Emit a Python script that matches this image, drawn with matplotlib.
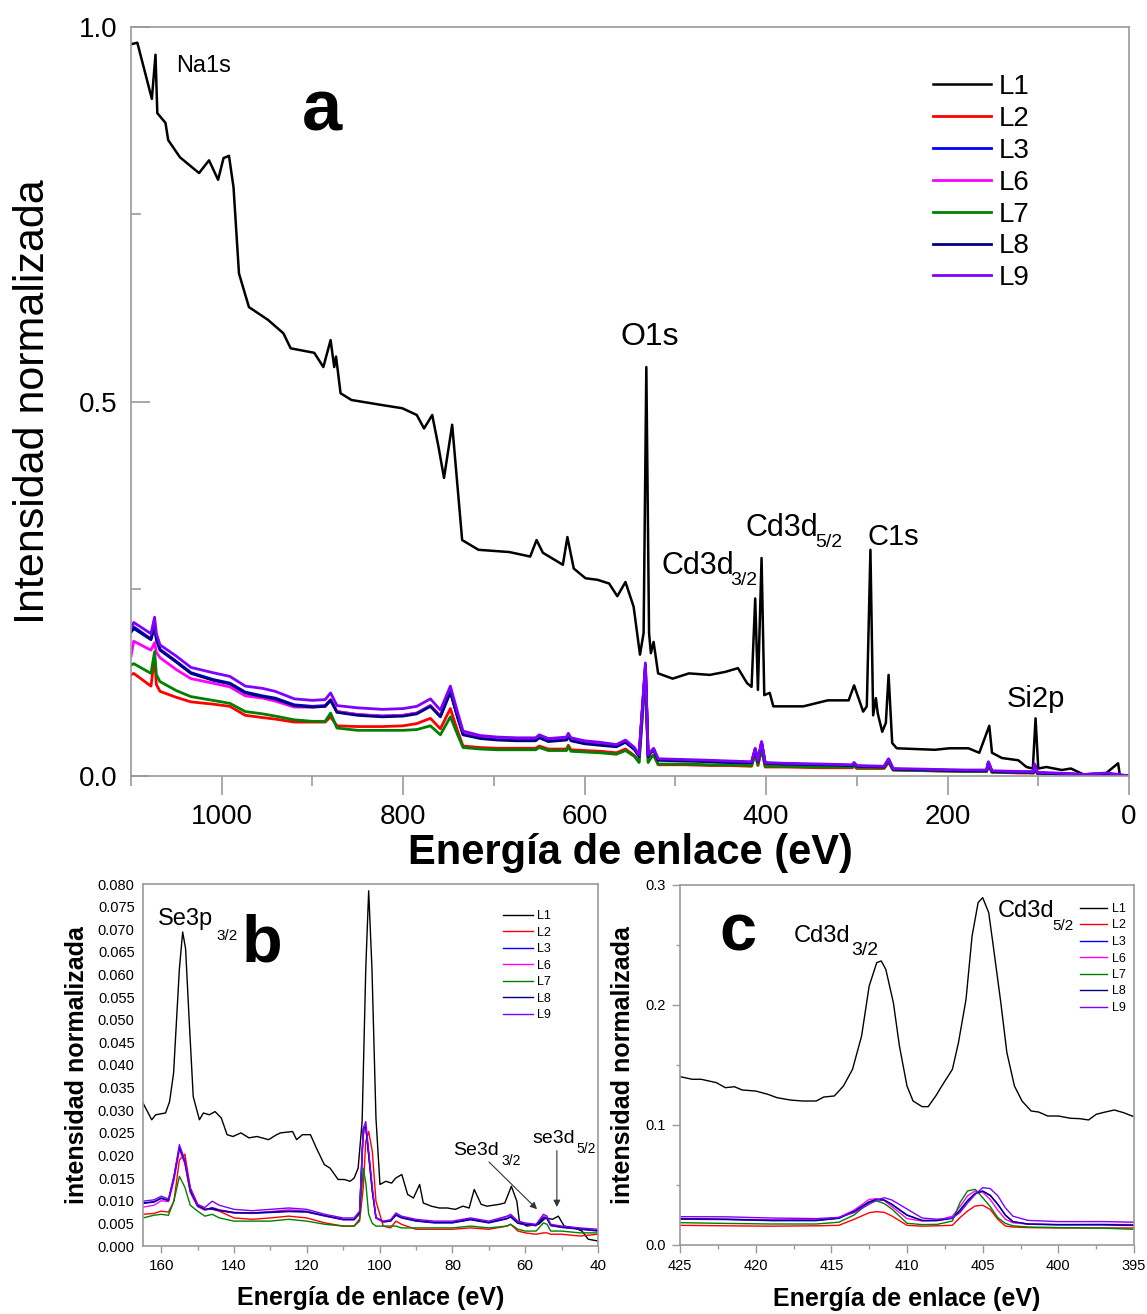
import numpy as np
import matplotlib
matplotlib.use('Agg')
import matplotlib.pyplot as plt
from matplotlib.ticker import MultipleLocator, FormatStrFormatter

plt.rcParams['font.family'] = ['Liberation Sans', 'DejaVu Sans']

# ─── data: panel a (survey) ───
labels = ['L1', 'L2', 'L3', 'L6', 'L7', 'L8', 'L9']
colors = ['black', '#ff0000', '#0000ff', '#ff00ff', '#008000', '#000080', '#8000ff']

e_a_l1 = [1100, 1093, 1077, 1073, 1071, 1062, 1059, 1046, 1025, 1014, 1004, 998, 992, 987,
          981, 970, 949, 932, 924, 898, 888, 880, 876, 874, 869, 857, 822, 801, 785, 777,
          768, 761, 755, 746, 735, 717, 683, 660, 653, 646, 624, 619, 612, 599, 586, 573,
          564, 555, 546, 539, 535, 532, 529, 527, 524, 519, 503, 485, 462, 445, 431, 421,
          416, 412, 409, 405, 402, 396, 392, 359, 332, 309, 303, 293, 289, 285, 282, 279,
          277, 272, 268, 265, 261, 256, 214, 198, 177, 165, 154, 151, 140, 122, 113, 106,
          103, 100, 91, 74, 64, 50, 29, 12, 10, 0]
i_a_l1 = [0.977, 0.979, 0.904, 0.963, 0.885, 0.872, 0.849, 0.826, 0.805, 0.822, 0.796, 0.825,
          0.828, 0.786, 0.671, 0.626, 0.609, 0.591, 0.571, 0.565, 0.546, 0.582, 0.546, 0.560,
          0.511, 0.502, 0.495, 0.491, 0.482, 0.464, 0.482, 0.439, 0.398, 0.469, 0.315, 0.302,
          0.299, 0.293, 0.315, 0.298, 0.282, 0.319, 0.277, 0.264, 0.262, 0.257, 0.240, 0.259,
          0.226, 0.162, 0.191, 0.546, 0.191, 0.164, 0.179, 0.137, 0.130, 0.137, 0.135, 0.139,
          0.144, 0.124, 0.119, 0.237, 0.115, 0.291, 0.108, 0.111, 0.093, 0.093, 0.101, 0.101,
          0.121, 0.086, 0.093, 0.302, 0.081, 0.104, 0.084, 0.059, 0.071, 0.135, 0.044, 0.037,
          0.035, 0.037, 0.037, 0.031, 0.067, 0.031, 0.024, 0.021, 0.012, 0.010, 0.077, 0.010,
          0.012, 0.008, 0.010, 0.002, 0.000, 0.017, 0.000, 0.000]

e_a_low = [1100, 1097, 1078, 1074, 1072, 1068, 1050, 1034, 1010, 991, 974, 955, 941, 920,
           900, 886, 880, 873, 850, 823, 800, 785, 770, 759, 748, 740, 734, 715, 696, 675,
           654, 650, 640, 620, 618, 615, 600, 583, 565, 555, 545, 540, 533, 530, 527, 524,
           519, 490, 462, 440, 416, 412, 409, 405, 401, 380, 340, 305, 303, 300, 270, 265,
           260, 220, 180, 157, 155, 151, 120, 105, 104, 101, 80, 50, 25, 10, 0]
i_a_l2 = [0.135, 0.137, 0.120, 0.158, 0.122, 0.113, 0.105, 0.099, 0.096, 0.093, 0.081, 0.078,
          0.076, 0.072, 0.072, 0.072, 0.079, 0.067, 0.066, 0.066, 0.067, 0.070, 0.077, 0.063,
          0.090, 0.060, 0.040, 0.038, 0.037, 0.037, 0.037, 0.040, 0.036, 0.036, 0.041, 0.035,
          0.034, 0.033, 0.031, 0.036, 0.027, 0.019, 0.140, 0.019, 0.025, 0.028, 0.015, 0.015,
          0.014, 0.014, 0.013, 0.030, 0.014, 0.036, 0.012, 0.012, 0.011, 0.011, 0.013, 0.010,
          0.010, 0.018, 0.008, 0.007, 0.006, 0.006, 0.014, 0.005, 0.004, 0.004, 0.011, 0.003,
          0.003, 0.002, 0.002, 0.001, 0.000]
i_a_l3 = [0.193, 0.199, 0.183, 0.201, 0.183, 0.169, 0.153, 0.138, 0.129, 0.124, 0.112, 0.107,
          0.104, 0.095, 0.093, 0.094, 0.102, 0.086, 0.082, 0.080, 0.081, 0.084, 0.094, 0.080,
          0.113, 0.079, 0.056, 0.051, 0.049, 0.048, 0.048, 0.052, 0.047, 0.049, 0.054, 0.048,
          0.044, 0.042, 0.040, 0.046, 0.036, 0.027, 0.146, 0.027, 0.032, 0.036, 0.022, 0.021,
          0.020, 0.019, 0.018, 0.036, 0.019, 0.045, 0.017, 0.016, 0.015, 0.014, 0.017, 0.013,
          0.012, 0.022, 0.009, 0.008, 0.007, 0.007, 0.018, 0.006, 0.005, 0.005, 0.015, 0.004,
          0.003, 0.002, 0.003, 0.001, 0.000]
i_a_l6 = [0.160, 0.180, 0.168, 0.178, 0.165, 0.158, 0.142, 0.130, 0.124, 0.119, 0.107, 0.104,
          0.100, 0.092, 0.092, 0.093, 0.101, 0.086, 0.082, 0.080, 0.081, 0.084, 0.094, 0.080,
          0.113, 0.079, 0.056, 0.051, 0.049, 0.048, 0.048, 0.052, 0.047, 0.049, 0.054, 0.048,
          0.044, 0.042, 0.040, 0.046, 0.036, 0.027, 0.145, 0.027, 0.032, 0.036, 0.022, 0.021,
          0.020, 0.019, 0.018, 0.036, 0.019, 0.045, 0.017, 0.016, 0.015, 0.014, 0.017, 0.013,
          0.012, 0.022, 0.009, 0.008, 0.007, 0.007, 0.018, 0.006, 0.005, 0.005, 0.015, 0.004,
          0.003, 0.002, 0.003, 0.001, 0.000]
i_a_l7 = [0.148, 0.150, 0.137, 0.166, 0.135, 0.126, 0.114, 0.106, 0.101, 0.097, 0.086, 0.083,
          0.080, 0.075, 0.073, 0.073, 0.084, 0.064, 0.061, 0.061, 0.061, 0.062, 0.067, 0.055,
          0.079, 0.055, 0.038, 0.036, 0.035, 0.035, 0.035, 0.038, 0.034, 0.034, 0.039, 0.033,
          0.032, 0.031, 0.029, 0.034, 0.026, 0.018, 0.135, 0.018, 0.024, 0.028, 0.016, 0.016,
          0.015, 0.015, 0.014, 0.030, 0.015, 0.036, 0.013, 0.013, 0.012, 0.012, 0.014, 0.011,
          0.011, 0.019, 0.008, 0.007, 0.006, 0.006, 0.015, 0.005, 0.005, 0.004, 0.012, 0.004,
          0.003, 0.002, 0.003, 0.001, 0.000]
i_a_l8 = [0.192, 0.197, 0.182, 0.200, 0.182, 0.168, 0.152, 0.137, 0.128, 0.123, 0.111, 0.106,
          0.103, 0.094, 0.092, 0.093, 0.101, 0.085, 0.081, 0.079, 0.080, 0.083, 0.093, 0.079,
          0.112, 0.078, 0.055, 0.050, 0.048, 0.047, 0.047, 0.051, 0.046, 0.048, 0.053, 0.047,
          0.043, 0.041, 0.039, 0.045, 0.035, 0.026, 0.148, 0.026, 0.031, 0.035, 0.021, 0.020,
          0.019, 0.018, 0.018, 0.035, 0.019, 0.044, 0.017, 0.016, 0.015, 0.014, 0.017, 0.013,
          0.012, 0.022, 0.009, 0.008, 0.007, 0.007, 0.018, 0.006, 0.005, 0.005, 0.015, 0.004,
          0.003, 0.002, 0.003, 0.001, 0.000]
i_a_l9 = [0.197, 0.205, 0.190, 0.212, 0.190, 0.175, 0.160, 0.145, 0.138, 0.133, 0.120, 0.117,
          0.113, 0.103, 0.101, 0.102, 0.111, 0.094, 0.091, 0.089, 0.090, 0.093, 0.103, 0.088,
          0.120, 0.085, 0.060, 0.054, 0.052, 0.051, 0.051, 0.055, 0.050, 0.052, 0.057, 0.051,
          0.047, 0.045, 0.042, 0.048, 0.038, 0.028, 0.151, 0.028, 0.033, 0.037, 0.023, 0.022,
          0.021, 0.020, 0.019, 0.037, 0.020, 0.046, 0.018, 0.017, 0.016, 0.015, 0.018, 0.014,
          0.013, 0.023, 0.010, 0.009, 0.008, 0.008, 0.019, 0.007, 0.006, 0.006, 0.016, 0.005,
          0.004, 0.002, 0.004, 0.002, 0.000]

# ─── data: panel b (Se3p / Se3d region) ───
e_b_l1 = [165, 162.6, 161.5, 158.8, 157.7, 156.6, 155.0, 154.1, 153.3, 152.2, 151.2, 149.5,
          148.4, 146.8, 145.2, 143.5, 141.9, 140.3, 138.1, 135.9, 133.7, 130.5, 128.3, 127.2,
          123.9, 122.8, 121.2, 119.0, 117.4, 115.2, 113.6, 111.4, 109.7, 108.1, 107.0, 105.9,
          104.8, 103.8, 103.0, 102.1, 101.0, 99.9, 98.3, 96.7, 95.6, 93.9, 92.3, 90.7, 89.0,
          88.0, 85.8, 83.6, 81.4, 79.2, 77.1, 75.4, 74.0, 72.1, 70.5, 67.2, 65.6, 63.8, 62.3,
          61.6, 59.6, 56.3, 54.4, 52.5, 50.9, 49.3, 46.5, 44.4, 42.7, 40.0]
i_b_l1 = [0.0316, 0.0279, 0.0290, 0.0294, 0.0319, 0.0382, 0.0613, 0.0694, 0.0657, 0.0481,
          0.0330, 0.0279, 0.0294, 0.0290, 0.0297, 0.0283, 0.0246, 0.0242, 0.0250, 0.0239,
          0.0242, 0.0235, 0.0246, 0.0250, 0.0253, 0.0235, 0.0246, 0.0246, 0.0217, 0.0180,
          0.0172, 0.0147, 0.0147, 0.0143, 0.0150, 0.0172, 0.0275, 0.0613, 0.0785, 0.0613,
          0.0283, 0.0136, 0.0143, 0.0139, 0.0150, 0.0158, 0.0114, 0.0106, 0.0136, 0.0095,
          0.0088, 0.0084, 0.0084, 0.0081, 0.0088, 0.0084, 0.0125, 0.0092, 0.0088, 0.0092,
          0.0095, 0.0132, 0.0099, 0.0055, 0.0044, 0.0048, 0.0062, 0.0059, 0.0066, 0.0044,
          0.0040, 0.0033, 0.0015, 0.0011]

e_b_low = [165, 162, 160, 158, 156.5, 155, 153.5, 152, 150, 148, 146, 144, 140, 135, 130,
           125, 120, 115, 110, 107, 105.5, 104.5, 103.8, 103, 102, 101, 99, 97, 95.5, 94, 90,
           85, 80, 75, 70, 65, 64, 62, 60, 57, 55, 54, 53, 50, 45, 40]
i_b_l2 = [0.0070, 0.0072, 0.0077, 0.0075, 0.0099, 0.0190, 0.0203, 0.0128, 0.0092, 0.0081,
          0.0081, 0.0077, 0.0062, 0.0059, 0.0062, 0.0066, 0.0062, 0.0051, 0.0044, 0.0044,
          0.0055, 0.0128, 0.0231, 0.0253, 0.0209, 0.0099, 0.0044, 0.0040, 0.0055, 0.0048,
          0.0037, 0.0037, 0.0037, 0.0040, 0.0037, 0.0044, 0.0048, 0.0033, 0.0029, 0.0026,
          0.0029, 0.0029, 0.0026, 0.0026, 0.0022, 0.0026]
i_b_l3 = [0.0094, 0.0097, 0.0105, 0.0100, 0.0150, 0.0218, 0.0185, 0.0120, 0.0088, 0.0080,
          0.0082, 0.0078, 0.0073, 0.0072, 0.0074, 0.0076, 0.0075, 0.0066, 0.0058, 0.0058,
          0.0072, 0.0255, 0.0262, 0.0200, 0.0120, 0.0062, 0.0053, 0.0055, 0.0068, 0.0062,
          0.0055, 0.0051, 0.0051, 0.0058, 0.0051, 0.0060, 0.0064, 0.0050, 0.0047, 0.0045,
          0.0062, 0.0060, 0.0045, 0.0041, 0.0037, 0.0033]
i_b_l6 = [0.0086, 0.0090, 0.0100, 0.0098, 0.0145, 0.0213, 0.0182, 0.0118, 0.0087, 0.0079,
          0.0085, 0.0080, 0.0074, 0.0073, 0.0076, 0.0080, 0.0077, 0.0067, 0.0058, 0.0058,
          0.0070, 0.0245, 0.0262, 0.0205, 0.0125, 0.0062, 0.0053, 0.0056, 0.0070, 0.0063,
          0.0056, 0.0052, 0.0052, 0.0060, 0.0052, 0.0065, 0.0068, 0.0052, 0.0048, 0.0045,
          0.0066, 0.0063, 0.0046, 0.0042, 0.0038, 0.0034]
i_b_l7 = [0.0062, 0.0068, 0.0070, 0.0068, 0.0100, 0.0154, 0.0130, 0.0090, 0.0077, 0.0066,
          0.0070, 0.0062, 0.0055, 0.0055, 0.0055, 0.0059, 0.0055, 0.0048, 0.0044, 0.0044,
          0.0060, 0.0172, 0.0140, 0.0070, 0.0050, 0.0044, 0.0044, 0.0044, 0.0044, 0.0040,
          0.0040, 0.0040, 0.0040, 0.0044, 0.0040, 0.0044, 0.0048, 0.0037, 0.0033, 0.0033,
          0.0051, 0.0048, 0.0033, 0.0033, 0.0029, 0.0029]
i_b_l8 = [0.0095, 0.0098, 0.0106, 0.0101, 0.0152, 0.0218, 0.0186, 0.0122, 0.0089, 0.0081,
          0.0084, 0.0079, 0.0074, 0.0073, 0.0075, 0.0077, 0.0076, 0.0067, 0.0059, 0.0059,
          0.0073, 0.0258, 0.0265, 0.0202, 0.0122, 0.0063, 0.0054, 0.0055, 0.0069, 0.0063,
          0.0056, 0.0052, 0.0052, 0.0059, 0.0052, 0.0061, 0.0065, 0.0051, 0.0048, 0.0046,
          0.0063, 0.0061, 0.0046, 0.0042, 0.0038, 0.0034]
i_b_l9 = [0.0099, 0.0102, 0.0110, 0.0104, 0.0155, 0.0224, 0.0190, 0.0128, 0.0092, 0.0085,
          0.0099, 0.0090, 0.0081, 0.0078, 0.0081, 0.0084, 0.0081, 0.0070, 0.0062, 0.0062,
          0.0077, 0.0260, 0.0275, 0.0210, 0.0130, 0.0062, 0.0055, 0.0058, 0.0073, 0.0066,
          0.0059, 0.0055, 0.0055, 0.0062, 0.0055, 0.0066, 0.0070, 0.0055, 0.0051, 0.0048,
          0.0070, 0.0066, 0.0048, 0.0044, 0.0040, 0.0037]

# ─── data: panel c (Cd3d region) ───
e_c_l1 = [425, 424.2, 423.6, 422.6, 422.0, 421.4, 420.9, 420.0, 419.2, 418.6, 417.7, 416.9,
          416.0, 415.5, 414.8, 414.2, 413.6, 413.0, 412.5, 412.0, 411.7, 411.4, 410.9, 410.5,
          410.0, 409.6, 409.0, 408.6, 408.1, 407.7, 407.0, 406.6, 406.1, 405.7, 405.3, 405.0,
          404.6, 404.3, 403.8, 403.4, 402.9, 402.4, 401.8, 401.3, 400.7, 400.0, 399.2, 398.6,
          398.0, 397.5, 396.9, 396.3, 395.7, 395.0]
i_c_l1 = [0.1403, 0.1381, 0.1381, 0.1353, 0.1311, 0.1319, 0.1292, 0.1283, 0.1256, 0.1228,
          0.1208, 0.1200, 0.1200, 0.1233, 0.1242, 0.1325, 0.1464, 0.1742, 0.2158, 0.2353,
          0.2367, 0.2297, 0.2019, 0.1658, 0.1325, 0.1200, 0.1153, 0.1153, 0.1242, 0.1325,
          0.1464, 0.1686, 0.2047, 0.2575, 0.2853, 0.2895, 0.2770, 0.2492, 0.2019, 0.1603,
          0.1325, 0.1200, 0.1117, 0.1108, 0.1075, 0.1075, 0.1056, 0.1053, 0.1042, 0.1089,
          0.1108, 0.1125, 0.1103, 0.1069]

e_c_low = [425, 422, 419, 416, 414.5, 413.5, 412.5, 412, 411.5, 411, 410, 409, 408, 407,
           406.5, 406, 405.5, 405, 404.5, 404, 403.5, 403, 402, 400, 397, 395]
i_c_l2 = [0.0164, 0.0160, 0.0157, 0.0160, 0.0164, 0.0214, 0.0269, 0.0278, 0.0272, 0.0242,
          0.0164, 0.0157, 0.0160, 0.0164, 0.0228, 0.0283, 0.0325, 0.0331, 0.0297, 0.0214,
          0.0158, 0.0150, 0.0145, 0.0142, 0.0142, 0.0142]
i_c_l3 = [0.0215, 0.0212, 0.0203, 0.0203, 0.0222, 0.0278, 0.0358, 0.0378, 0.0372, 0.0338,
          0.0248, 0.0203, 0.0203, 0.0222, 0.0288, 0.0368, 0.0428, 0.0447, 0.0412, 0.0338,
          0.0248, 0.0193, 0.0173, 0.0168, 0.0168, 0.0163]
i_c_l6 = [0.0220, 0.0215, 0.0210, 0.0210, 0.0230, 0.0290, 0.0380, 0.0385, 0.0370, 0.0320,
          0.0220, 0.0200, 0.0205, 0.0240, 0.0320, 0.0410, 0.0450, 0.0440, 0.0380, 0.0290,
          0.0215, 0.0185, 0.0175, 0.0170, 0.0172, 0.0170]
i_c_l7 = [0.0186, 0.0180, 0.0175, 0.0175, 0.0190, 0.0250, 0.0353, 0.0367, 0.0345, 0.0300,
          0.0181, 0.0170, 0.0172, 0.0200, 0.0353, 0.0450, 0.0464, 0.0395, 0.0320, 0.0228,
          0.0180, 0.0160, 0.0150, 0.0145, 0.0140, 0.0131]
i_c_l8 = [0.0219, 0.0215, 0.0205, 0.0205, 0.0225, 0.0280, 0.0360, 0.0381, 0.0375, 0.0340,
          0.0250, 0.0205, 0.0205, 0.0225, 0.0290, 0.0370, 0.0430, 0.0450, 0.0415, 0.0340,
          0.0250, 0.0195, 0.0175, 0.0170, 0.0170, 0.0165]
i_c_l9 = [0.0236, 0.0235, 0.0225, 0.0220, 0.0230, 0.0270, 0.0340, 0.0375, 0.0394, 0.0375,
          0.0300, 0.0225, 0.0215, 0.0225, 0.0270, 0.0350, 0.0420, 0.0478, 0.0470, 0.0410,
          0.0310, 0.0240, 0.0205, 0.0195, 0.0195, 0.0190]

SPINE = '#9a9a9a'
W, H = 1147, 1314

fig = plt.figure(figsize=(W / 100, H / 100), dpi=100)

def box(l, t, r, b):
    return [l / W, 1 - b / H, (r - l) / W, (b - t) / H]

def style(ax):
    for s in ax.spines.values():
        s.set_color(SPINE)
        s.set_linewidth(1.2)
    ax.tick_params(which='both', color=SPINE)

def sublabel(ax, x, y, txt, sx, sy, sub, size, subsize):
    ax.text(x, y, txt, fontsize=size, ha='left', va='baseline')
    ax.text(sx, sy, sub, fontsize=subsize, ha='left', va='baseline')

# ─── Panel a ───
ax = fig.add_axes(box(131, 27, 1129, 776))
ax.plot(e_a_l1, i_a_l1, color=colors[0], lw=1.8, label=labels[0])
for lab, col, yy in zip(labels[1:], colors[1:],
                        [i_a_l2, i_a_l3, i_a_l6, i_a_l7, i_a_l8, i_a_l9]):
    ax.plot(e_a_low, yy, color=col, lw=2.0, label=lab)
ax.set_xlim(1100, 0)
ax.set_ylim(0, 1.0)
ax.xaxis.set_major_locator(MultipleLocator(200))
ax.xaxis.set_minor_locator(MultipleLocator(100))
ax.yaxis.set_major_locator(MultipleLocator(0.5))
ax.yaxis.set_minor_locator(MultipleLocator(0.25))
ax.yaxis.set_major_formatter(FormatStrFormatter('%.1f'))
ax.tick_params(axis='x', which='major', direction='out', length=14, width=1.2, labelsize=20, pad=6)
ax.tick_params(axis='x', which='minor', direction='out', length=7, width=1.2)
ax.tick_params(axis='y', which='major', direction='in', length=14, width=1.2, labelsize=20, pad=10)
ax.tick_params(axis='y', which='minor', direction='in', length=7, width=1.2)
style(ax)
ax.set_xlabel('Energía de enlace (eV)', fontsize=30, fontweight='bold', labelpad=2)
ax.set_ylabel('Intensidad normalizada', fontsize=31, labelpad=18)
ax.legend(loc='upper left', bbox_to_anchor=(0.8036, 0.937), frameon=False, fontsize=20,
          handlelength=2.1, handletextpad=0.25, labelspacing=0.21, borderpad=0, borderaxespad=0)
ax.text(1050, 0.940, 'Na1s', fontsize=17, ha='left', va='baseline')
ax.text(889, 0.862, 'a', fontsize=52, fontweight='bold', ha='center', va='baseline')
ax.text(561, 0.575, 'O1s', fontsize=23, ha='left', va='baseline')
sublabel(ax, 515, 0.270, 'Cd3d', 439, 0.255, '3/2', 22, 14)
sublabel(ax, 423, 0.321, 'Cd3d', 346, 0.306, '5/2', 22, 14)
ax.text(288, 0.308, 'C1s', fontsize=21, ha='left', va='baseline')
ax.text(135, 0.092, 'Si2p', fontsize=21, ha='left', va='baseline')

# ─── Panel b ───
ax = fig.add_axes(box(143, 884, 598, 1246))
ax.plot(e_b_l1, i_b_l1, color=colors[0], lw=1.0, label=labels[0])
for lab, col, yy in zip(labels[1:], colors[1:],
                        [i_b_l2, i_b_l3, i_b_l6, i_b_l7, i_b_l8, i_b_l9]):
    ax.plot(e_b_low, yy, color=col, lw=1.0, label=lab)
ax.set_xlim(165, 40)
ax.set_ylim(0, 0.080)
ax.xaxis.set_major_locator(MultipleLocator(20))
ax.xaxis.set_minor_locator(MultipleLocator(10))
ax.yaxis.set_major_locator(MultipleLocator(0.005))
ax.yaxis.set_major_formatter(FormatStrFormatter('%.3f'))
ax.tick_params(axis='x', which='major', direction='out', length=5, width=1.0, labelsize=11, pad=4)
ax.tick_params(axis='x', which='minor', direction='out', length=3, width=1.0)
ax.tick_params(axis='y', which='major', length=0, labelsize=10.5, pad=6)
style(ax)
ax.set_xlabel('Energía de enlace (eV)', fontsize=18, fontweight='bold', labelpad=10)
ax.set_ylabel('intensidad normalizada', fontsize=18, fontweight='bold', labelpad=6)
ax.legend(loc='upper left', bbox_to_anchor=(0.792, 0.928), frameon=False, fontsize=9,
          handlelength=2.4, handletextpad=0.3, labelspacing=0.36, borderpad=0, borderaxespad=0)
sublabel(ax, 160.9, 0.0709, 'Se3p', 144.9, 0.0676, '3/2', 17, 11)
ax.text(132.3, 0.0628, 'b', fontsize=48, fontweight='bold', ha='center', va='baseline')
sublabel(ax, 79.8, 0.0201, 'Se3d', 66.6, 0.0179, '3/2', 14, 10)
sublabel(ax, 58.1, 0.0228, 'se3d', 46.0, 0.0206, '5/2', 14, 10)
ax.annotate('', xy=(56.2, 0.0077), xytext=(70.5, 0.0190),
            arrowprops=dict(arrowstyle='-|>', color='#333333', lw=0.8, mutation_scale=10))
ax.annotate('', xy=(51.3, 0.0080), xytext=(51.3, 0.0217),
            arrowprops=dict(arrowstyle='-|>', color='#333333', lw=0.8, mutation_scale=10))

# ─── Panel c ───
ax = fig.add_axes(box(680, 885, 1134, 1245))
ax.plot(e_c_l1, i_c_l1, color=colors[0], lw=1.0, label=labels[0])
for lab, col, yy in zip(labels[1:], colors[1:],
                        [i_c_l2, i_c_l3, i_c_l6, i_c_l7, i_c_l8, i_c_l9]):
    ax.plot(e_c_low, yy, color=col, lw=1.0, label=lab)
ax.set_xlim(425, 395)
ax.set_ylim(0, 0.3)
ax.xaxis.set_major_locator(MultipleLocator(5))
ax.xaxis.set_minor_locator(MultipleLocator(2.5))
ax.yaxis.set_major_locator(MultipleLocator(0.1))
ax.yaxis.set_minor_locator(MultipleLocator(0.05))
ax.yaxis.set_major_formatter(FormatStrFormatter('%.1f'))
ax.tick_params(axis='both', which='major', direction='out', length=6, width=1.0, labelsize=10.5, pad=4)
ax.tick_params(axis='both', which='minor', direction='out', length=3, width=1.0)
style(ax)
ax.set_xlabel('Energía de enlace (eV)', fontsize=18, fontweight='bold', labelpad=10)
ax.set_ylabel('intensidad normalizada', fontsize=18, fontweight='bold', labelpad=8)
ax.legend(loc='upper left', bbox_to_anchor=(0.881, 0.950), frameon=False, fontsize=9,
          handlelength=2.2, handletextpad=0.4, labelspacing=0.36, borderpad=0, borderaxespad=0)
ax.text(421.2, 0.2458, 'c', fontsize=48, fontweight='bold', ha='center', va='baseline')
sublabel(ax, 417.5, 0.2525, 'Cd3d', 413.7, 0.2417, '3/2', 17, 14)
sublabel(ax, 404.0, 0.2733, 'Cd3d', 400.4, 0.2625, '5/2', 17, 11)

fig.savefig('out.png', dpi=100)
print('saved out.png')
